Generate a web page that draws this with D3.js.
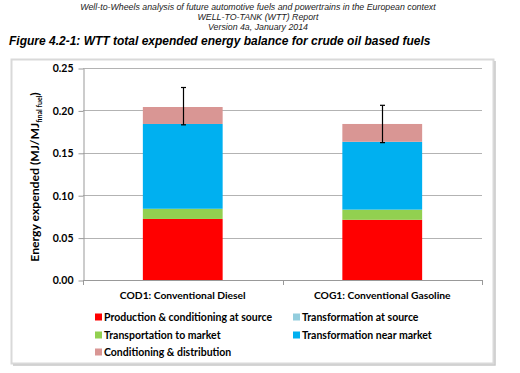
<!DOCTYPE html>
<html>
<head>
<meta charset="utf-8">
<script src="https://cdnjs.cloudflare.com/ajax/libs/d3/7.8.5/d3.min.js"></script>
<style>
  body { margin: 0; background: #fff; }
  svg { display: block; }
</style>
</head>
<body>
<svg id="chart" width="520" height="373"></svg>
<script>
// chart values
var categories = ['COD1: Conventional Diesel', 'COG1: Conventional Gasoline'];
var seriesNames = ['Production & conditioning at source', 'Transformation at source',
    'Transportation to market', 'Transformation near market', 'Conditioning & distribution'];
var stackOrder = [0, 2, 1, 3, 4]; // bottom to top
var production = [0.072, 0.071];
var transformSource = [0, 0];
var transport = [0.012, 0.012];
var transformMarket = [0.100, 0.080];
var conditioning = [0.020, 0.021];
var errLow = [0.183, 0.162];
var errHigh = [0.227, 0.206];
var yTicks = [0, 0.05, 0.10, 0.15, 0.20, 0.25];

var colors = ['#ff0000', '#93cddd', '#92d050', '#00b0f0', '#d99694'];
var values = [production, transformSource, transport, transformMarket, conditioning];

var svg = d3.select('#chart');
var font = 'Lato, "Open Sans", sans-serif';

// page header
var header = [
    'Well-to-Wheels analysis of future automotive fuels and powertrains in the European context',
    'WELL-TO-TANK (WTT) Report',
    'Version 4a, January 2014'
];
svg.selectAll('text.head')
    .data(header)
    .enter().append('text')
    .attr('class', 'head')
    .attr('x', 258)
    .attr('y', function(d, i) { return 10 + i * 10; })
    .attr('text-anchor', 'middle')
    .attr('font-family', 'Liberation Sans, Arial, sans-serif')
    .attr('font-style', 'italic')
    .attr('font-size', 8.8)
    .attr('fill', '#222')
    .text(function(d) { return d; });

svg.append('text')
    .attr('x', 9)
    .attr('y', 44.5)
    .attr('font-family', 'Liberation Sans, Arial, sans-serif')
    .attr('font-style', 'italic')
    .attr('font-weight', 'bold')
    .attr('font-size', 12)
    .text('Figure 4.2-1: WTT total expended energy balance for crude oil based fuels');

// chart frame
svg.append('rect')
    .attr('x', 11.5).attr('y', 59.5)
    .attr('width', 482).attr('height', 304)
    .attr('fill', 'none')
    .attr('stroke', '#d9d9d9')
    .attr('stroke-width', 2);
svg.append('path')
    .attr('d', 'M495,61V365H13')
    .attr('fill', 'none')
    .attr('stroke', '#c8c8c8')
    .attr('stroke-width', 1.5);

var plotLeft = 83, plotRight = 482, plotTop = 68, plotBottom = 280;

var x = d3.scaleBand().domain(categories).range([plotLeft, plotRight]).paddingInner(0.6).paddingOuter(0.3);
var y = d3.scaleLinear().domain([0, 0.25]).range([plotBottom, plotTop]);

// gridlines
svg.selectAll('line.grid')
    .data(yTicks.slice(1))
    .enter().append('line')
    .attr('class', 'grid')
    .attr('x1', plotLeft).attr('x2', plotRight)
    .attr('y1', function(d) { return Math.round(y(d)) + 0.5; })
    .attr('y2', function(d) { return Math.round(y(d)) + 0.5; })
    .attr('stroke', '#b3b3b3')
    .attr('stroke-width', 1);

// y axis
var yAxis = svg.append('g')
    .attr('transform', 'translate(' + (plotLeft + 0.5) + ',0.5)')
    .call(d3.axisLeft(y).tickValues(yTicks).tickFormat(d3.format('.2f')).tickSize(5).tickSizeOuter(0));
yAxis.select('.domain').attr('stroke', '#999');
yAxis.selectAll('.tick line').attr('stroke', '#999');
yAxis.selectAll('.tick text')
    .attr('font-family', font)
    .attr('font-weight', 'bold')
    .attr('font-size', 10.5)
    .attr('fill', '#000')
    .attr('x', -10);

// x axis
svg.append('line')
    .attr('x1', plotLeft).attr('x2', plotRight)
    .attr('y1', plotBottom + 0.5).attr('y2', plotBottom + 0.5)
    .attr('stroke', '#999');
svg.selectAll('line.xtick')
    .data([plotLeft, (plotLeft + plotRight) / 2, plotRight])
    .enter().append('line')
    .attr('class', 'xtick')
    .attr('x1', function(d) { return Math.round(d) + 0.5; })
    .attr('x2', function(d) { return Math.round(d) + 0.5; })
    .attr('y1', plotBottom).attr('y2', plotBottom + 5)
    .attr('stroke', '#999');

svg.selectAll('text.cat')
    .data(categories)
    .enter().append('text')
    .attr('class', 'cat')
    .attr('x', function(d) { return x(d) + x.bandwidth() / 2; })
    .attr('y', 298.5)
    .attr('text-anchor', 'middle')
    .attr('font-family', font)
    .attr('font-weight', 'bold')
    .attr('font-size', 10.3)
    .text(function(d) { return d; });

// stacked bars
categories.forEach(function(cat, ci) {
    var base = 0;
    stackOrder.forEach(function(si) {
        var v = values[si][ci];
        if (v > 0) {
            svg.append('rect')
                .attr('x', x(cat))
                .attr('width', x.bandwidth())
                .attr('y', y(base + v))
                .attr('height', y(base) - y(base + v))
                .attr('fill', colors[si]);
        }
        base += v;
    });
});

// error bars
var cx = function(i) { return Math.round(x(categories[i]) + x.bandwidth() / 2) + 0.5; };
categories.forEach(function(cat, i) {
    var g = svg.append('g').attr('stroke', '#000').attr('stroke-width', 1.2);
    g.append('line').attr('x1', cx(i)).attr('x2', cx(i)).attr('y1', y(errLow[i])).attr('y2', y(errHigh[i]));
    g.append('line').attr('x1', cx(i) - 2.5).attr('x2', cx(i) + 2.5).attr('y1', y(errLow[i])).attr('y2', y(errLow[i]));
    g.append('line').attr('x1', cx(i) - 2.5).attr('x2', cx(i) + 2.5).attr('y1', y(errHigh[i])).attr('y2', y(errHigh[i]));
});

// y axis title with subscript
var title = svg.append('text')
    .attr('transform', 'translate(39,177) rotate(-90)')
    .attr('text-anchor', 'middle')
    .attr('font-family', font)
    .attr('font-weight', 'bold')
    .attr('font-size', 12.2);
title.append('tspan').text('Energy expended (MJ/MJ');
title.append('tspan').attr('font-size', 7).attr('dy', 3).text('final fuel');
title.append('tspan').attr('dy', -3).text(')');

// legend
var legendPos = [[95, 317], [293, 317], [95, 335], [293, 335], [95, 352]];
var legend = svg.selectAll('g.leg')
    .data(seriesNames)
    .enter().append('g')
    .attr('class', 'leg')
    .attr('transform', function(d, i) { return 'translate(' + legendPos[i][0] + ',' + legendPos[i][1] + ')'; });
legend.append('rect')
    .attr('x', 0).attr('y', -3.5)
    .attr('width', 7).attr('height', 7)
    .attr('fill', function(d, i) { return colors[i]; });
legend.append('text')
    .attr('x', 9)
    .attr('y', 3.8)
    .attr('font-family', font)
    .attr('font-weight', 'bold')
    .attr('font-size', 10.5)
    .text(function(d) { return d; });
</script>
</body>
</html>
